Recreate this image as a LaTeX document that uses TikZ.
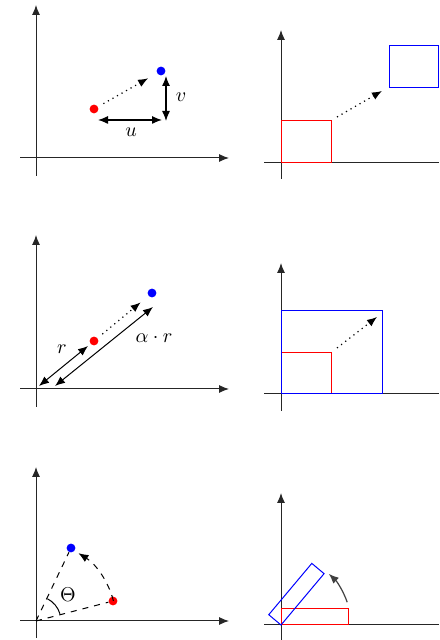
\documentclass[tikz,border=0pt]{standalone}
\usetikzlibrary{arrows.meta}
\begin{document}
\begin{tikzpicture}[x=0.5pt,y=0.5pt,
  axisline/.style={draw=black!85, line width=0.5pt},
  axis/.style={axisline, -{Latex[length=5pt,width=4pt]}},
  arr/.style={line width=0.6pt, -{Latex[length=5pt,width=4pt]}},
  darr/.style={line width=0.6pt, {Latex[length=5pt,width=4pt]}-{Latex[length=5pt,width=4pt]}},
  dotarr/.style={dotted, line width=0.6pt, -{Latex[length=5pt,width=4pt]}},
  dot/.style={circle, inner sep=0pt, minimum size=4.4pt},
  redbox/.style={draw=red, line width=0.5pt},
  bluebox/.style={draw=blue, line width=0.5pt},
  lbl/.style={inner sep=0pt}]
\useasboundingbox (0,0) rectangle (439,640);

% ---------- panel 1 ----------
\coordinate (a1b) at (36,464); \coordinate (a1t) at (36,635);
\coordinate (a1l) at (20,482); \coordinate (a1r) at (229,482);
\draw[axis] (a1b) -- (a1t);
\draw[axis] (a1l) -- (a1r);
\node[dot, fill=red] (p1) at (94,531) {};
\node[dot, fill=blue] (q1) at (161,569) {};
\draw[dotarr, shorten <=3pt, shorten >=5pt] (p1) -- (q1);
\coordinate (u1) at (98,520); \coordinate (u2) at (162,520);
\draw[darr] (u1) -- (u2);
\coordinate (v1) at (166,519); \coordinate (v2) at (166,564);
\draw[darr] (v1) -- (v2);
\node[lbl] (ul) at (131,508) {$u$};
\node[lbl] (vl) at (181,543) {$v$};

% ---------- panel 2 ----------
\coordinate (a2b) at (281,461); \coordinate (a2t) at (281,610);
\coordinate (a2l) at (264,477); \coordinate (a2r) at (439,477);
\draw[axis] (a2b) -- (a2t);
\draw[axisline] (a2l) -- (a2r);
\draw[redbox] (281,477) rectangle (331,519);
\draw[bluebox] (389,552) rectangle (438.5,594);
\coordinate (s2) at (337,523); \coordinate (e2) at (382,549);
\draw[dotarr] (s2) -- (e2);

% ---------- panel 3 ----------
\coordinate (a3b) at (36,233); \coordinate (a3t) at (36,405);
\coordinate (a3l) at (20,251); \coordinate (a3r) at (229,251);
\draw[axis] (a3b) -- (a3t);
\draw[axis] (a3l) -- (a3r);
\node[dot, fill=red] (p3) at (94,299) {};
\node[dot, fill=blue] (q3) at (152,347) {};
\draw[dotarr, shorten <=3pt, shorten >=5pt] (p3) -- (q3);
\coordinate (r1) at (39,254); \coordinate (r2) at (88,294);
\draw[darr, line width=0.5pt] (r1) -- (r2);
\coordinate (ar1) at (55,254); \coordinate (ar2) at (153,333);
\draw[darr, line width=0.5pt] (ar1) -- (ar2);
\node[lbl] (rl) at (62,291) {$r$};
\node[lbl] (arl) at (154,302) {$\alpha\cdot r$};

% ---------- panel 4 ----------
\coordinate (a4b) at (281,229); \coordinate (a4t) at (281,377);
\coordinate (a4l) at (264,246); \coordinate (a4r) at (439,246);
\draw[axis] (a4b) -- (a4t);
\draw[axisline] (a4l) -- (a4r);
\draw[redbox] (281,246) rectangle (331,287);
\draw[bluebox] (281,246) rectangle (382,329);
\coordinate (s4) at (337,292); \coordinate (e4) at (377,323);
\draw[dotarr] (s4) -- (e4);

% ---------- panel 5 ----------
\coordinate (a5b) at (36,2); \coordinate (a5t) at (36,173);
\coordinate (a5l) at (20,19); \coordinate (a5r) at (229,19);
\draw[axis] (a5b) -- (a5t);
\draw[axis] (a5l) -- (a5r);
\coordinate (o5) at (36,19);
\node[dot, fill=red] (p5) at (113,39) {};
\node[dot, fill=blue] (q5) at (71,92) {};
\draw[dashed, line width=0.5pt] (o5) -- (p5);
\draw[dashed, line width=0.5pt] (o5) -- (q5);
\draw[dashed, line width=0.5pt, -{Latex[length=5pt,width=4pt]}]
  ([shift={(14.6:80)}]o5) arc[start angle=14.6, end angle=58, radius=80];
\draw[line width=0.5pt] ([shift={(17:25)}]o5) arc[start angle=17, end angle=63, radius=25];
\node[lbl] (th) at (68,45) {$\Theta$};

% ---------- panel 6 ----------
\coordinate (a6b) at (281,0); \coordinate (a6t) at (281,147);
\coordinate (a6l) at (264,15); \coordinate (a6r) at (439,15);
\draw[axis] (a6b) -- (a6t);
\draw[axisline] (a6l) -- (a6r);
\coordinate (o6) at (281,15);
\draw[redbox] (281,15) rectangle (348,31);
\draw[bluebox, rotate around={50:(o6)}] (281,15) rectangle (348,31);
\draw[draw=black!75, line width=0.6pt, -{Latex[length=5pt,width=4pt]}]
  ([shift={(19:70)}]o6) arc[start angle=19, end angle=47, radius=70];
\end{tikzpicture}
\end{document}
